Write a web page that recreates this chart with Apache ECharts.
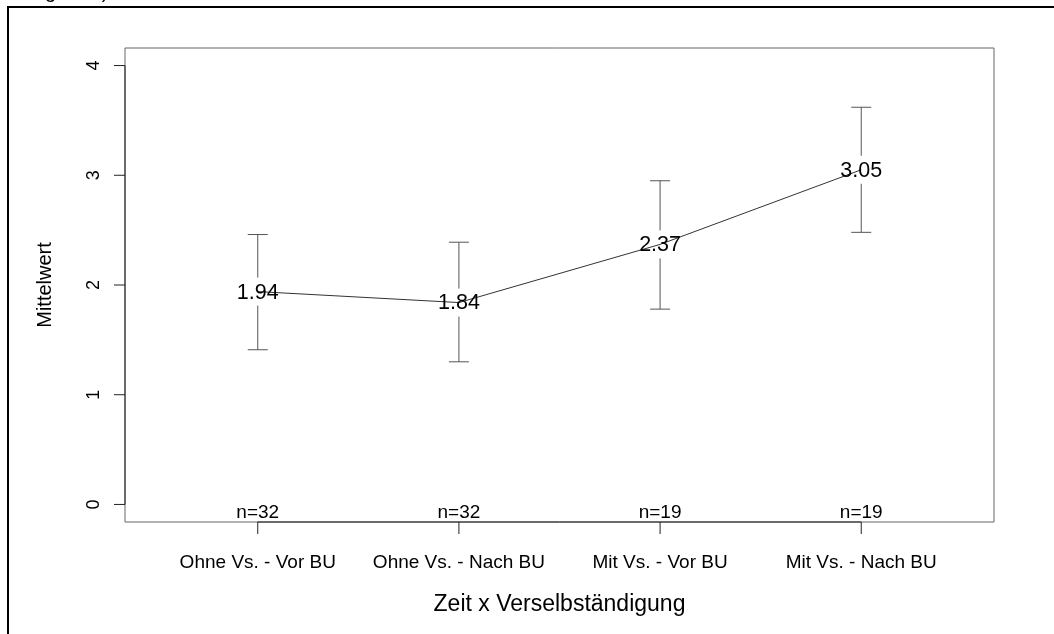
<!DOCTYPE html>
<html>
<head>
<meta charset="utf-8">
<script src="https://cdn.jsdelivr.net/npm/echarts@6/dist/echarts.min.js"></script>
<style>
  html, body { margin: 0; padding: 0; background: #fff; }
  #chart { width: 1054px; height: 634px; }
</style>
</head>
<body>
<div id="chart"></div>
<script>
// Group means with confidence intervals (Zeit x Verselbständigung)
const categories = ['Ohne Vs. - Vor BU', 'Ohne Vs. - Nach BU', 'Mit Vs. - Vor BU', 'Mit Vs. - Nach BU'];
const means = [1.94, 1.84, 2.37, 3.05];
const ciLower = [1.41, 1.30, 1.78, 2.48];
const ciUpper = [2.46, 2.39, 2.95, 3.62];
const nCounts = [32, 32, 19, 19];
const yTicks = [0, 1, 2, 3, 4];
const xPositions = [1, 2, 3, 4];

const FONT = '"Liberation Sans", Arial, Helvetica, sans-serif';
const Y_MIN = -0.16, Y_MAX = 4.16;
const X_MIN = 0.34, X_MAX = 4.66;

const barData = xPositions.map((x, i) => [x, ciLower[i], ciUpper[i], means[i], nCounts[i]]);
const lineData = xPositions.map((x, i) => [x, means[i]]);

const chart = echarts.init(document.getElementById('chart'), null, { renderer: 'canvas' });

chart.setOption({
  backgroundColor: '#fff',
  animation: false,
  graphic: [
    {
      type: 'rect',
      shape: { x: 8, y: 7, width: 1200, height: 800 },
      style: { fill: 'none', stroke: '#000', lineWidth: 2 },
      silent: true
    },
    {
      type: 'text',
      x: 24, y: -8,
      style: { text: 'Tag 1-12)', font: '20px ' + FONT, fill: '#000', verticalAlign: 'middle' },
      silent: true
    }
  ],
  grid: { left: 125, top: 48, right: 60, bottom: 112, show: true, borderColor: '#666', borderWidth: 1, containLabel: false },
  xAxis: {
    type: 'value',
    min: X_MIN,
    max: X_MAX,
    name: 'Zeit x Verselbständigung',
    nameLocation: 'middle',
    nameGap: 71,
    nameTextStyle: { fontFamily: FONT, fontSize: 23, color: '#000' },
    axisLine: { show: false, onZero: false },
    splitLine: { show: false },
    axisTick: { show: false },
    axisLabel: {
      customValues: xPositions,
      formatter: v => categories[Math.round(v) - 1] || '',
      fontFamily: FONT, fontSize: 19, color: '#000', margin: 31
    }
  },
  yAxis: {
    type: 'value',
    min: Y_MIN,
    max: Y_MAX,
    name: 'Mittelwert',
    nameLocation: 'middle',
    nameGap: 70,
    nameRotate: 90,
    nameTextStyle: { fontFamily: FONT, fontSize: 20, color: '#000' },
    axisLine: { show: false, onZero: false },
    splitLine: { show: false },
    axisTick: { show: false },
    axisLabel: {
      customValues: yTicks,
      rotate: 90,
      fontFamily: FONT, fontSize: 18, color: '#000', margin: 22
    }
  },
  series: [
    {
      // axis lines and tick marks spanning the tick range
      type: 'custom',
      silent: true,
      data: [[0]],
      renderItem: (params, api) => {
        const st = { stroke: '#222', lineWidth: 1 };
        const yb = api.coord([X_MIN, yTicks[0]]);
        const yt = api.coord([X_MIN, yTicks[yTicks.length - 1]]);
        const xl = api.coord([xPositions[0], Y_MIN]);
        const xr = api.coord([xPositions[xPositions.length - 1], Y_MIN]);
        const children = [
          { type: 'line', shape: { x1: yb[0], y1: yb[1], x2: yt[0], y2: yt[1] }, style: st },
          { type: 'line', shape: { x1: xl[0], y1: xl[1], x2: xr[0], y2: xr[1] }, style: st }
        ];
        yTicks.forEach(v => {
          const p = api.coord([X_MIN, v]);
          children.push({ type: 'line', shape: { x1: p[0] - 11, y1: p[1], x2: p[0], y2: p[1] }, style: st });
        });
        xPositions.forEach(v => {
          const p = api.coord([v, Y_MIN]);
          children.push({ type: 'line', shape: { x1: p[0], y1: p[1], x2: p[0], y2: p[1] + 12 }, style: st });
        });
        return { type: 'group', children };
      }
    },
    {
      type: 'line',
      data: lineData,
      symbol: 'none',
      silent: true,
      lineStyle: { color: '#333', width: 1 },
      z: 3
    },
    {
      type: 'custom',
      data: barData,
      silent: true,
      z: 4,
      renderItem: (params, api) => {
        const x = api.value(0);
        const lo = api.coord([x, api.value(1)]);
        const hi = api.coord([x, api.value(2)]);
        const m = api.coord([x, api.value(3)]);
        const base = api.coord([x, Y_MIN]);
        const gap = 14, cap = 10;
        const st = { stroke: '#555', lineWidth: 1 };
        return {
          type: 'group',
          children: [
            { type: 'line', shape: { x1: hi[0], y1: hi[1], x2: m[0], y2: m[1] - gap }, style: st },
            { type: 'line', shape: { x1: m[0], y1: m[1] + gap, x2: lo[0], y2: lo[1] }, style: st },
            { type: 'line', shape: { x1: hi[0] - cap, y1: hi[1], x2: hi[0] + cap, y2: hi[1] }, style: st },
            { type: 'line', shape: { x1: lo[0] - cap, y1: lo[1], x2: lo[0] + cap, y2: lo[1] }, style: st },
            {
              type: 'text',
              style: {
                text: api.value(3).toFixed(2),
                x: m[0], y: m[1] + 1,
                align: 'center', verticalAlign: 'middle',
                font: '21.5px ' + FONT, fill: '#000'
              }
            },
            {
              type: 'text',
              style: {
                text: 'n=' + api.value(4),
                x: base[0], y: base[1] - 9,
                align: 'center', verticalAlign: 'middle',
                font: '19px ' + FONT, fill: '#000'
              }
            }
          ]
        };
      }
    }
  ]
});
</script>
</body>
</html>
